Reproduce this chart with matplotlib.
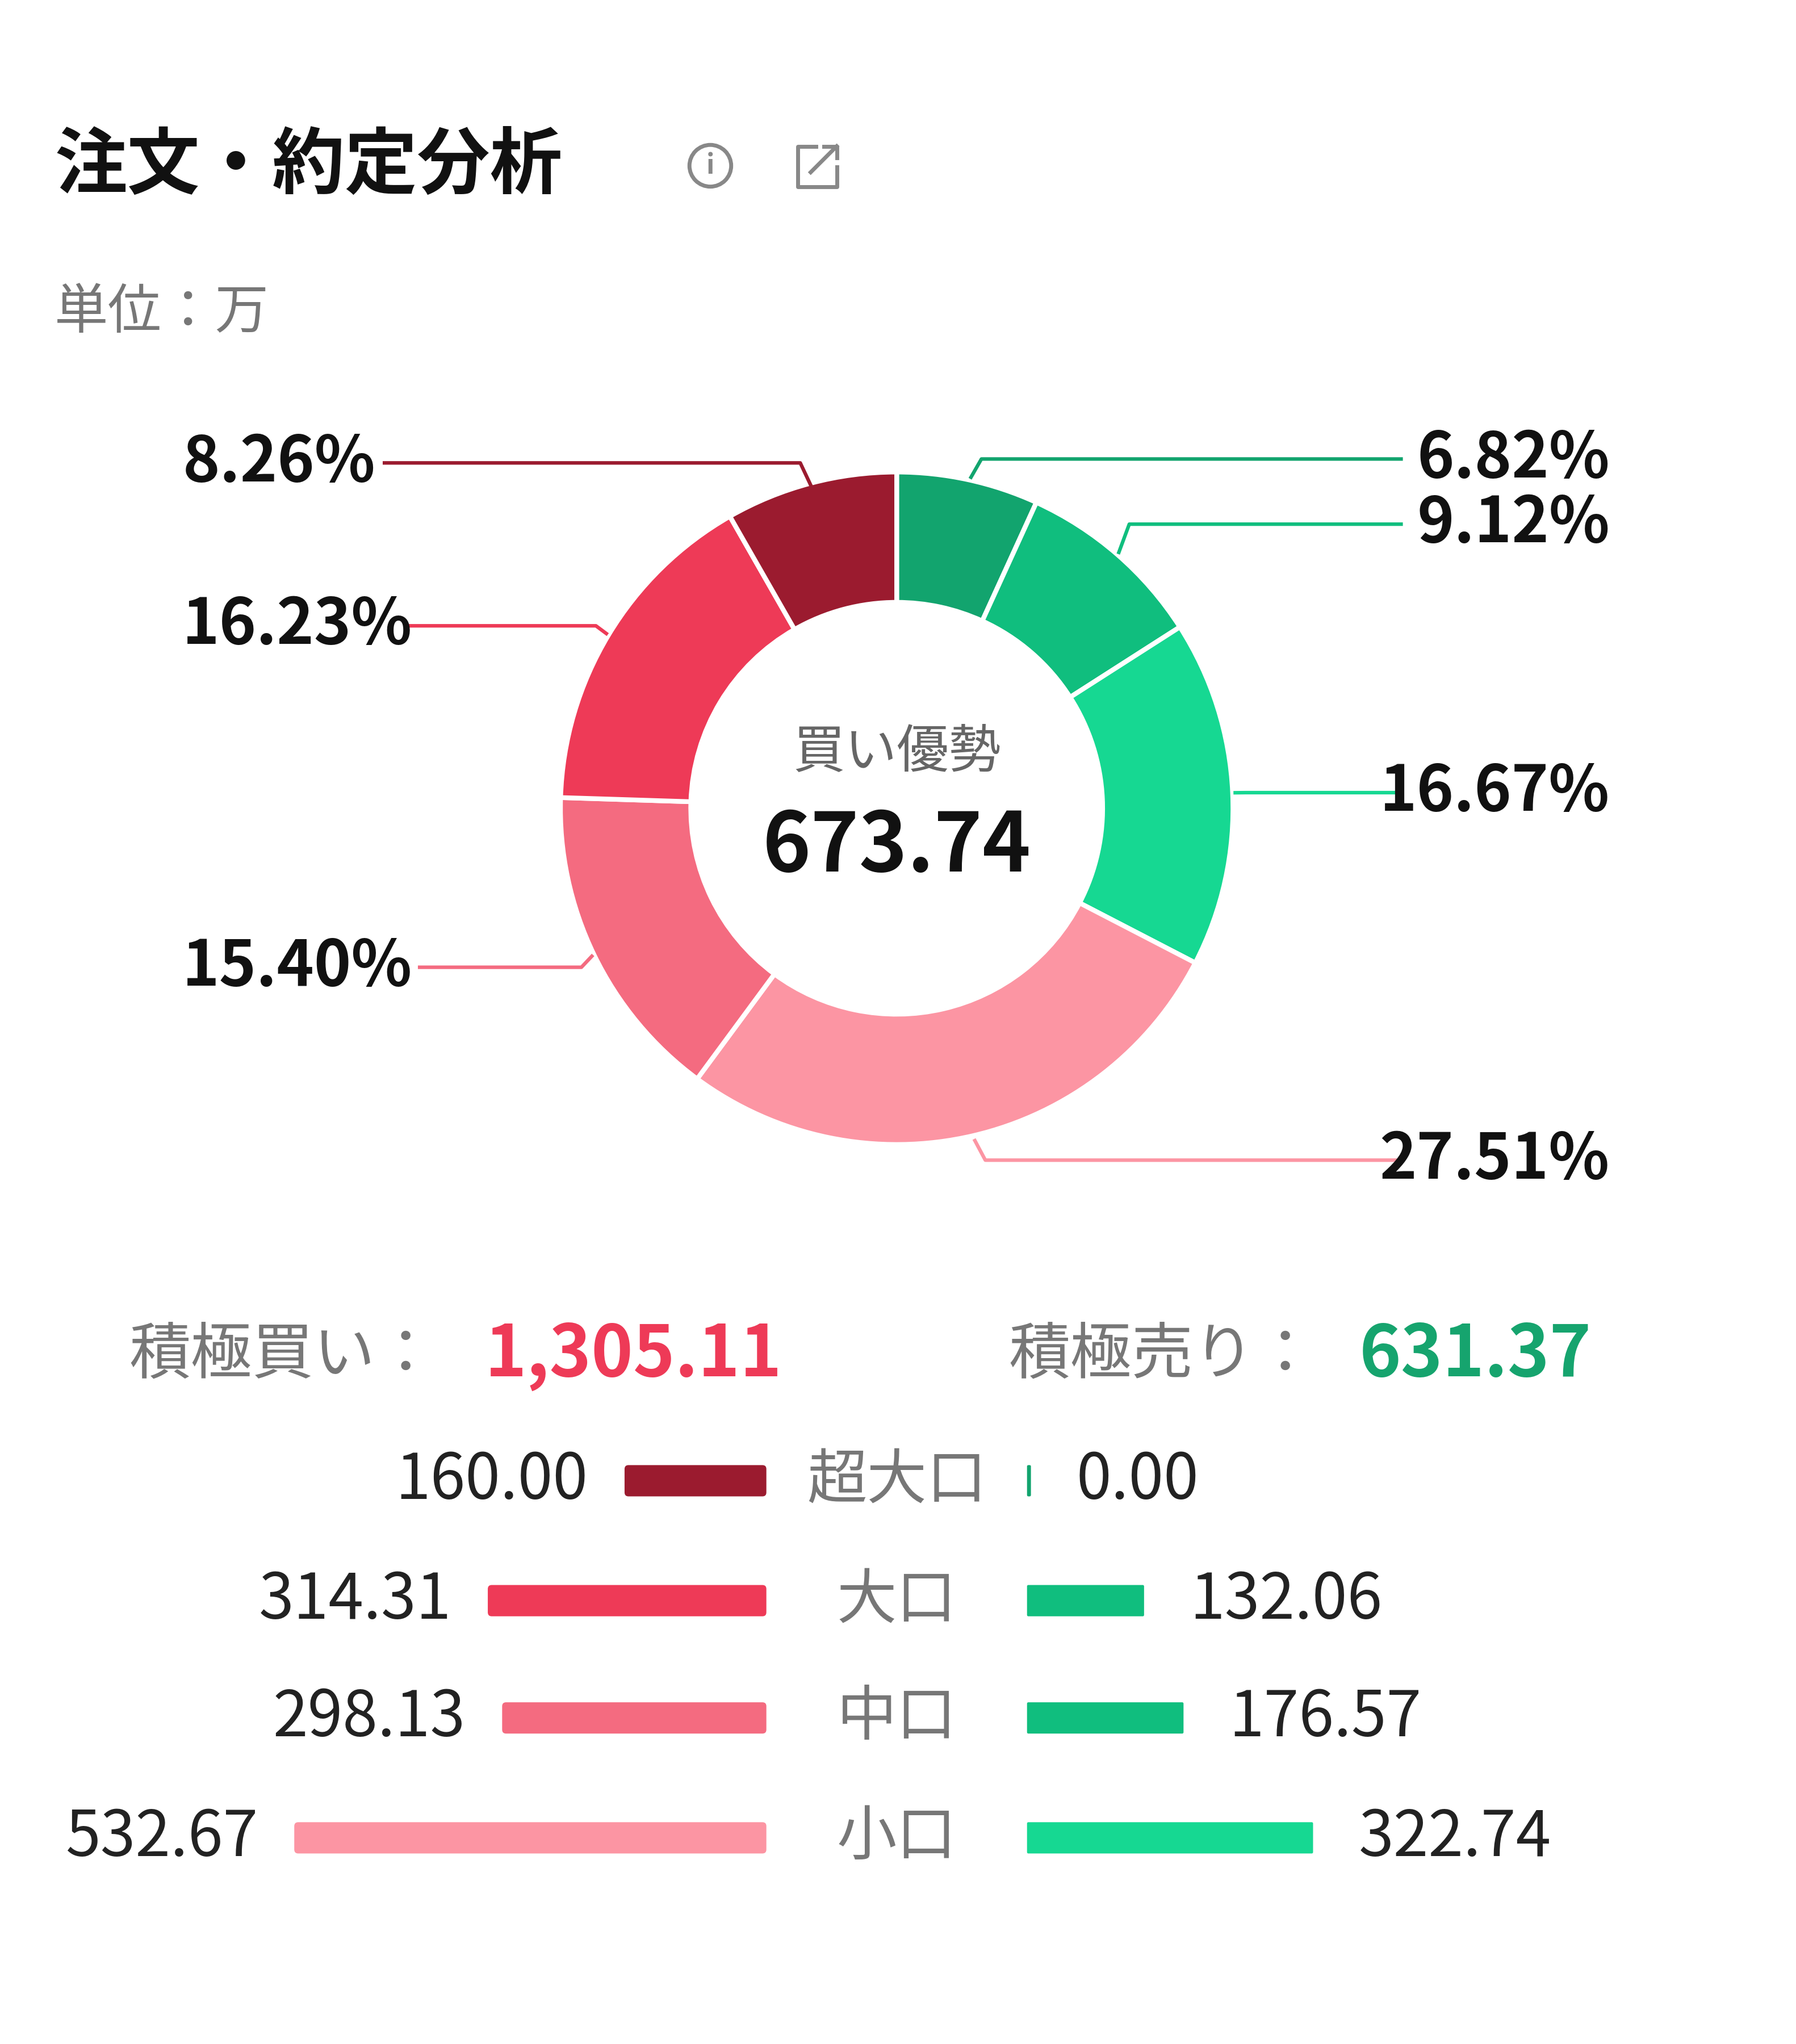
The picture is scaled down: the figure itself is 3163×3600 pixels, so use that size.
import matplotlib
matplotlib.use("Agg")
import matplotlib.pyplot as plt
from matplotlib.patches import Circle, FancyBboxPatch
import numpy as np

plt.rcParams['font.family'] = ['Noto Sans CJK JP', 'DejaVu Sans']

# data (clockwise from top)
slice_labels = ["売り大口", "売り中口", "売り小口", "買い小口", "買い中口", "買い大口", "買い超大口"]
slice_values = [132.06, 176.57, 322.74, 532.67, 298.13, 314.31, 160.00]
slice_pcts = ["6.82%", "9.12%", "16.67%", "27.51%", "15.40%", "16.23%", "8.26%"]
slice_colors = ["#12A46E", "#10BE7E", "#16D892", "#FC95A3", "#F46B80", "#EE3A57", "#9B1B2F"]

rows = ["超大口", "大口", "中口", "小口"]
buy_vals = [160.00, 314.31, 298.13, 532.67]
sell_vals = [0.00, 132.06, 176.57, 322.74]
buy_colors = ["#9B1B2F", "#EE3A57", "#F46B80", "#FC95A3"]
sell_colors = ["#12A46E", "#10BE7E", "#10BE7E", "#16D892"]
total_buy = "1,305.11"
total_sell = "631.37"
center_value = "673.74"

W, H = 1378, 1568
fig = plt.figure(figsize=(31.63, 36), dpi=100)
ax = fig.add_axes([0, 0, 1, 1])
ax.set_xlim(0, W); ax.set_ylim(0, H); ax.set_aspect('equal'); ax.axis('off')
Y = lambda y: H - y

# title
ax.text(42, Y(128), "注文・約定分析", fontsize=92, fontweight='bold', va='center', ha='left', color='#111')
ax.add_patch(Circle((545, Y(127)), 16, fill=False, lw=5, ec='#888'))
ax.text(545, Y(127), "i", fontsize=34, ha='center', va='center', color='#888', fontweight='bold')
ax.plot([626, 612, 612, 642, 642], [Y(112), Y(112), Y(143), Y(143), Y(128)], color='#888', lw=5)
ax.plot([622, 642], [Y(132), Y(112)], color='#888', lw=5)
ax.plot([632, 642, 642], [Y(112), Y(112), Y(121)], color='#888', lw=5)
ax.text(42, Y(240), "単位：万", fontsize=68, va='center', ha='left', color='#777')

# donut
cx, cy, R = 688, Y(620), 258
wedges, _ = ax.pie(slice_values, colors=slice_colors, startangle=90, counterclock=False,
                   center=(cx, cy), radius=R, wedgeprops=dict(width=100, edgecolor='white', linewidth=6),
                   frame=True)
ax.set_xlim(0, W); ax.set_ylim(0, H); ax.axis('off')

label_pos = [(1235, 352), (1235, 402), (1235, 608), (1235, 890), (140, 742), (140, 480), (140, 355)]
angles = []
cum = 0
tot = sum(slice_values)
for v in slice_values:
    mid = 90 - (cum + v / 2) / tot * 360
    angles.append(mid); cum += v
for i, (w, a) in enumerate(zip(wedges, angles)):
    lx, ly = label_pos[i]
    rad = np.deg2rad(a)
    # edge point
    ex, ey = cx + (R + 2) * np.cos(rad), cy + (R + 2) * np.sin(rad)
    right = lx > cx
    if i == 0:
        ex, ey = 745, Y(366)
    if i == 6:
        ex, ey = 622, Y(372)
    if i == 3:
        ex, ey = 748, Y(875)
    kx = ex + (8 if right else -8)
    endx = 1075 if right else (lx + {4: 182, 5: 175, 6: 155}[i])
    ax.plot([ex, kx, endx], [ey, Y(ly), Y(ly)], color=slice_colors[i], lw=4.5, zorder=1)
    ax.text(lx, Y(ly), slice_pcts[i], fontsize=80, fontweight='bold', va='center',
            ha='right' if right else 'left', color='#111')

ax.text(cx, Y(577), "買い優勢", fontsize=66, ha='center', va='center', color='#666')
ax.text(cx, Y(650), center_value, fontsize=104, fontweight='bold', ha='center', va='center', color='#111')

# totals
ax.text(335, Y(1040), "積極買い：", fontsize=78, ha='right', va='center', color='#777')
ax.text(372, Y(1040), total_buy, fontsize=90, fontweight='bold', ha='left', va='center', color='#EE3A57')
ax.text(1010, Y(1040), "積極売り：", fontsize=78, ha='right', va='center', color='#777')
ax.text(1043, Y(1040), total_sell, fontsize=90, fontweight='bold', ha='left', va='center', color='#16A46E')

# bars
scale = 0.68
row_y = [1136, 1228, 1318, 1410]
for i, r in enumerate(rows):
    yy = Y(row_y[i])
    bl = buy_vals[i] * scale
    ax.add_patch(FancyBboxPatch((588 - bl, yy - 12), bl, 24, boxstyle="round,pad=0,rounding_size=3",
                                fc=buy_colors[i], ec='none'))
    ax.text(588 - bl - 28, yy, f"{buy_vals[i]:.2f}", fontsize=80, ha='right', va='center', color='#222')
    sl = max(sell_vals[i] * scale, 3)
    ax.add_patch(FancyBboxPatch((788, yy - 12), sl, 24, boxstyle="round,pad=0,rounding_size=1",
                                fc=sell_colors[i], ec='none'))
    ax.text(788 + sl + 35, yy, f"{sell_vals[i]:.2f}", fontsize=80, ha='left', va='center', color='#222')
    ax.text(688, yy, r, fontsize=76, ha='center', va='center', color='#777')

fig.savefig("out.png", dpi=100, facecolor='white')
